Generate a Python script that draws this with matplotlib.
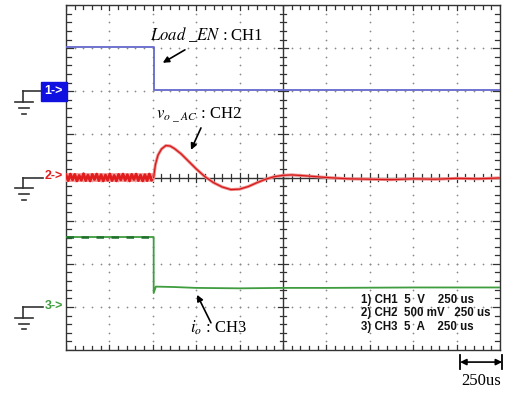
import numpy as np
import matplotlib.pyplot as plt

plt.rcParams['mathtext.fontset'] = 'stix'
plt.rcParams['font.family'] = ['Liberation Serif', 'DejaVu Serif']

# -----------------------------
# DATA (screen divisions, 10 x 8 grid)
# -----------------------------
GND = {"1": 6.0, "2": 4.0, "3": 1.0}

t_ch1 = [0.0, 2.02, 2.02, 10.0]
v_ch1 = [1.02, 1.02, 0.02, 0.02]

# CH2 before the load step: switching ripple band
ripple = [0.08, -0.09, 0.10, -0.07, 0.09, -0.10, 0.06, -0.08, 0.11, -0.09,
          0.07, -0.10, 0.09, -0.06, 0.10, -0.09, 0.08, -0.10, 0.07, -0.08,
          0.10, -0.09, 0.06, -0.10, 0.09, -0.07, 0.10, -0.08, 0.08, -0.10,
          0.09, -0.06, 0.10, -0.09, 0.07, -0.10, 0.08, -0.09, 0.10, -0.08, 0.06]
t_ch2 = [2.02, 2.06, 2.12, 2.2, 2.3, 2.4, 2.5, 2.65, 2.8, 3.0, 3.2, 3.4, 3.6,
         3.8, 4.0, 4.2, 4.4, 4.6, 4.8, 5.0, 5.2, 5.5, 6.0, 6.5, 7.0, 7.5, 8.0,
         8.5, 9.0, 9.5, 10.0]
v_ch2 = [0.0, 0.30, 0.52, 0.66, 0.74, 0.73, 0.67, 0.55, 0.40, 0.20, 0.02,
         -0.12, -0.22, -0.28, -0.27, -0.21, -0.12, -0.04, 0.02, 0.05, 0.06,
         0.04, 0.0, -0.03, -0.04, -0.05, -0.03, -0.04, -0.02, -0.03, -0.01]

t_ch3 = [0.0, 2.02, 2.02, 2.07, 2.5, 3.0, 4.0, 5.0, 6.0, 8.0, 10.0]
v_ch3 = [1.62, 1.62, 0.32, 0.47, 0.46, 0.44, 0.43, 0.44, 0.44, 0.45, 0.45]

settings = ["1) CH1  5  V    250 us", "2) CH2  500 mV   250 us", "3) CH3  5  A    250 us"]

BLUE = "#6468cc"
RED = "#e01c1c"
GREEN = "#3f9d3f"

# -----------------------------
# FIGURE
# -----------------------------
fig = plt.figure(figsize=(5.1, 3.94), dpi=100)
ax = fig.add_axes([66 / 510, 44 / 394, 434 / 510, 345 / 394])
ax.set_xlim(0, 10)
ax.set_ylim(0, 8)
ax.set_xticks([])
ax.set_yticks([])
for s in ax.spines.values():
    s.set_color("#333333")
    s.set_linewidth(1.0)

# dotted graticule
fine_x = np.arange(0, 10.01, 0.2)
fine_y = np.arange(0, 8.01, 0.2)
for gy in range(1, 8):
    if gy != 4:
        ax.scatter(fine_x, np.full_like(fine_x, gy), s=1.6, color="#8a8a8a", lw=0, zorder=1)
for gx in range(1, 10):
    if gx != 5:
        ax.scatter(np.full_like(fine_y, gx), fine_y, s=1.6, color="#8a8a8a", lw=0, zorder=1)

# center cross with ticks
ax.axhline(4, color="#333333", lw=1.0, zorder=2)
ax.axvline(5, color="#333333", lw=1.0, zorder=2)
for x in fine_x:
    h = 0.10 if abs(x - round(x)) < 1e-6 else 0.07
    ax.plot([x, x], [4 - h, 4 + h], color="#333333", lw=0.9, zorder=2)
    ax.plot([x, x], [0, h + 0.02], color="#333333", lw=0.9, zorder=2)
    ax.plot([x, x], [8 - h - 0.02, 8], color="#333333", lw=0.9, zorder=2)
for y in fine_y:
    w = 0.12 if abs(y - round(y)) < 1e-6 else 0.08
    ax.plot([5 - w, 5 + w], [y, y], color="#333333", lw=0.9, zorder=2)
    ax.plot([0, w + 0.03], [y, y], color="#333333", lw=0.9, zorder=2)
    ax.plot([10 - w - 0.03, 10], [y, y], color="#333333", lw=0.9, zorder=2)

# traces
ax.plot(t_ch1, np.array(v_ch1) + GND["1"], color=BLUE, lw=1.3, zorder=4)

t_rip = np.linspace(0, 2.02, len(ripple))
ax.fill_between(t_rip, GND["2"] - 0.1, GND["2"] + 0.1, color="#f3a0a0", lw=0, zorder=3)
ax.plot(t_rip, np.array(ripple) * 0.8 + GND["2"], color=RED, lw=2.0, zorder=4)
ax.plot(t_ch2, np.array(v_ch2) + GND["2"], color="#ec8a8a", lw=2.2, zorder=4)
ax.plot(t_ch2, np.array(v_ch2) + GND["2"], color="#d81818", lw=0.9, zorder=4)

ax.plot(t_ch3, np.array(v_ch3) + GND["3"], color=GREEN, lw=1.3, zorder=4)
ax.plot(t_ch3[:2], np.array(v_ch3[:2]) + GND["3"], color="#1f6e2a", lw=1.8,
        ls=(0, (3, 3)), zorder=5)

# channel markers + ground symbols
def ground(y):
    k = dict(color="#333333", lw=1.2, clip_on=False)
    ax.plot([-0.99, -0.53], [y, y], **k)
    ax.plot([-0.99, -0.99], [y, y - 0.25], **k)
    ax.plot([-1.18, -0.76], [y - 0.25, y - 0.25], **k)
    ax.plot([-1.09, -0.86], [y - 0.39, y - 0.39], **k)
    ax.plot([-1.02, -0.93], [y - 0.52, y - 0.52], **k)

for ch in GND:
    ground(GND[ch])

ax.text(-0.28, GND["1"], "1->", color="white", fontsize=9, fontweight="bold",
        family="Liberation Sans", ha="center", va="center",
        bbox=dict(boxstyle="square,pad=0.3", fc="#1010e0", ec="#1010e0"))
ax.text(-0.28, GND["2"] + 0.03, "2->", color=RED, fontsize=9, fontweight="bold",
        family="Liberation Sans", ha="center", va="center")
ax.text(-0.28, GND["3"] + 0.01, "3->", color=GREEN, fontsize=9, fontweight="bold",
        family="Liberation Sans", ha="center", va="center")

# annotations
arrow = dict(arrowstyle="-|>", color="black", lw=1.2, mutation_scale=9, shrinkA=0, shrinkB=0)
ax.text(3.23, 7.31, r"$Load\ \_EN$ : CH1", fontsize=12, ha="center", va="center")
ax.annotate("", xy=(2.23, 6.66), xytext=(2.74, 6.96), arrowprops=arrow)
ax.text(3.05, 5.45, r"$v_{o\ \_\ AC}$ : CH2", fontsize=12, ha="center", va="center")
ax.annotate("", xy=(2.88, 4.64), xytext=(3.11, 5.15), arrowprops=arrow)
ax.text(3.52, 0.51, r"$i_o$ : CH3", fontsize=12, ha="center", va="center")
ax.annotate("", xy=(3.02, 1.28), xytext=(3.34, 0.63), arrowprops=arrow)

for i, line in enumerate(settings):
    ax.text(6.8, 1.17 - 0.32 * i, line, fontsize=8.3, fontweight="bold",
            family="Liberation Sans", ha="left", va="center", color="#111111")

# time scale bar
ax.annotate("", xy=(10.05, -0.28), xytext=(9.08, -0.28),
            arrowprops=dict(arrowstyle="<|-|>", color="black", lw=1.2,
                            mutation_scale=9, shrinkA=0, shrinkB=0),
            annotation_clip=False)
for xb in (9.08, 10.05):
    ax.plot([xb, xb], [-0.12, -0.45], color="black", lw=1.3, clip_on=False)
ax.text(9.57, -0.72, "250us", fontsize=12, ha="center", va="center")

fig.savefig("out.png", dpi=100)
